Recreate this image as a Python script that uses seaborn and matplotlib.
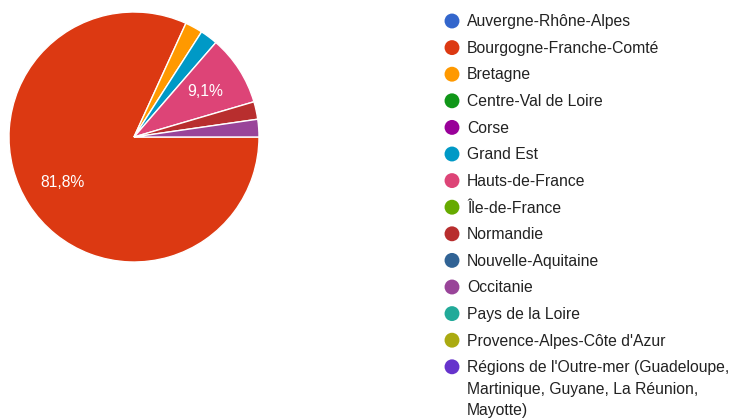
import pandas as pd
import seaborn as sns
import matplotlib.pyplot as plt

regions = [
    "Auvergne-Rhône-Alpes",
    "Bourgogne-Franche-Comté",
    "Bretagne",
    "Centre-Val de Loire",
    "Corse",
    "Grand Est",
    "Hauts-de-France",
    "Île-de-France",
    "Normandie",
    "Nouvelle-Aquitaine",
    "Occitanie",
    "Pays de la Loire",
    "Provence-Alpes-Côte d'Azur",
    "Régions de l'Outre-mer (Guadeloupe,\nMartinique, Guyane, La Réunion,\nMayotte)",
]
counts = [0, 36, 1, 0, 0, 1, 4, 0, 1, 0, 1, 0, 0, 0]
colors = ["#3366cc", "#dc3912", "#ff9900", "#109618", "#990099", "#0099c6", "#dd4477",
          "#66aa00", "#b82e2e", "#316395", "#994499", "#22aa99", "#aaaa11", "#6633cc"]

sns.set_theme(style="white")
plt.rcParams['font.family'] = ['Liberation Sans', 'DejaVu Sans']

df = pd.DataFrame({"region": regions, "count": counts, "color": colors})
df_pie = df[df["count"] > 0]

fig = plt.figure(figsize=(7.5, 4.19), dpi=100)

# pie, centre at (134,137) px, radius 125 px
ax = fig.add_axes([9 / 750, (419 - 262) / 419, 250 / 750, 250 / 419])
wedges, texts, autotexts = ax.pie(
    df_pie["count"], colors=df_pie["color"], startangle=0, counterclock=False,
    autopct=lambda p: f"{p:.1f}%".replace(".", ",") if p > 5 else "",
    pctdistance=0.68, wedgeprops=dict(edgecolor="white", linewidth=1),
    textprops=dict(color="white", fontsize=11.3))
ax.set_xlim(-1.0, 1.0)
ax.set_ylim(-1.0, 1.0)
ax.set_aspect("equal")

# legend drawn in pixel coordinates
lg = fig.add_axes([0, 0, 1, 1])
row_y = [21 + 26.6 * i for i in range(len(regions))]
sns.scatterplot(x=[452] * len(regions), y=row_y, hue=regions, palette=colors,
                s=115, edgecolor="none", legend=False, ax=lg)
lg.set_xlim(0, 750)
lg.set_ylim(419, 0)
lg.axis("off")
for y, name in zip(row_y, regions):
    for k, line in enumerate(name.split("\n")):
        # baseline sits half a cap height below the dot centre
        lg.text(467, y + 5.3 + 21.5 * k, line, fontsize=11.3, color="#222222",
                va="baseline")

plt.savefig("out.png", dpi=100)
